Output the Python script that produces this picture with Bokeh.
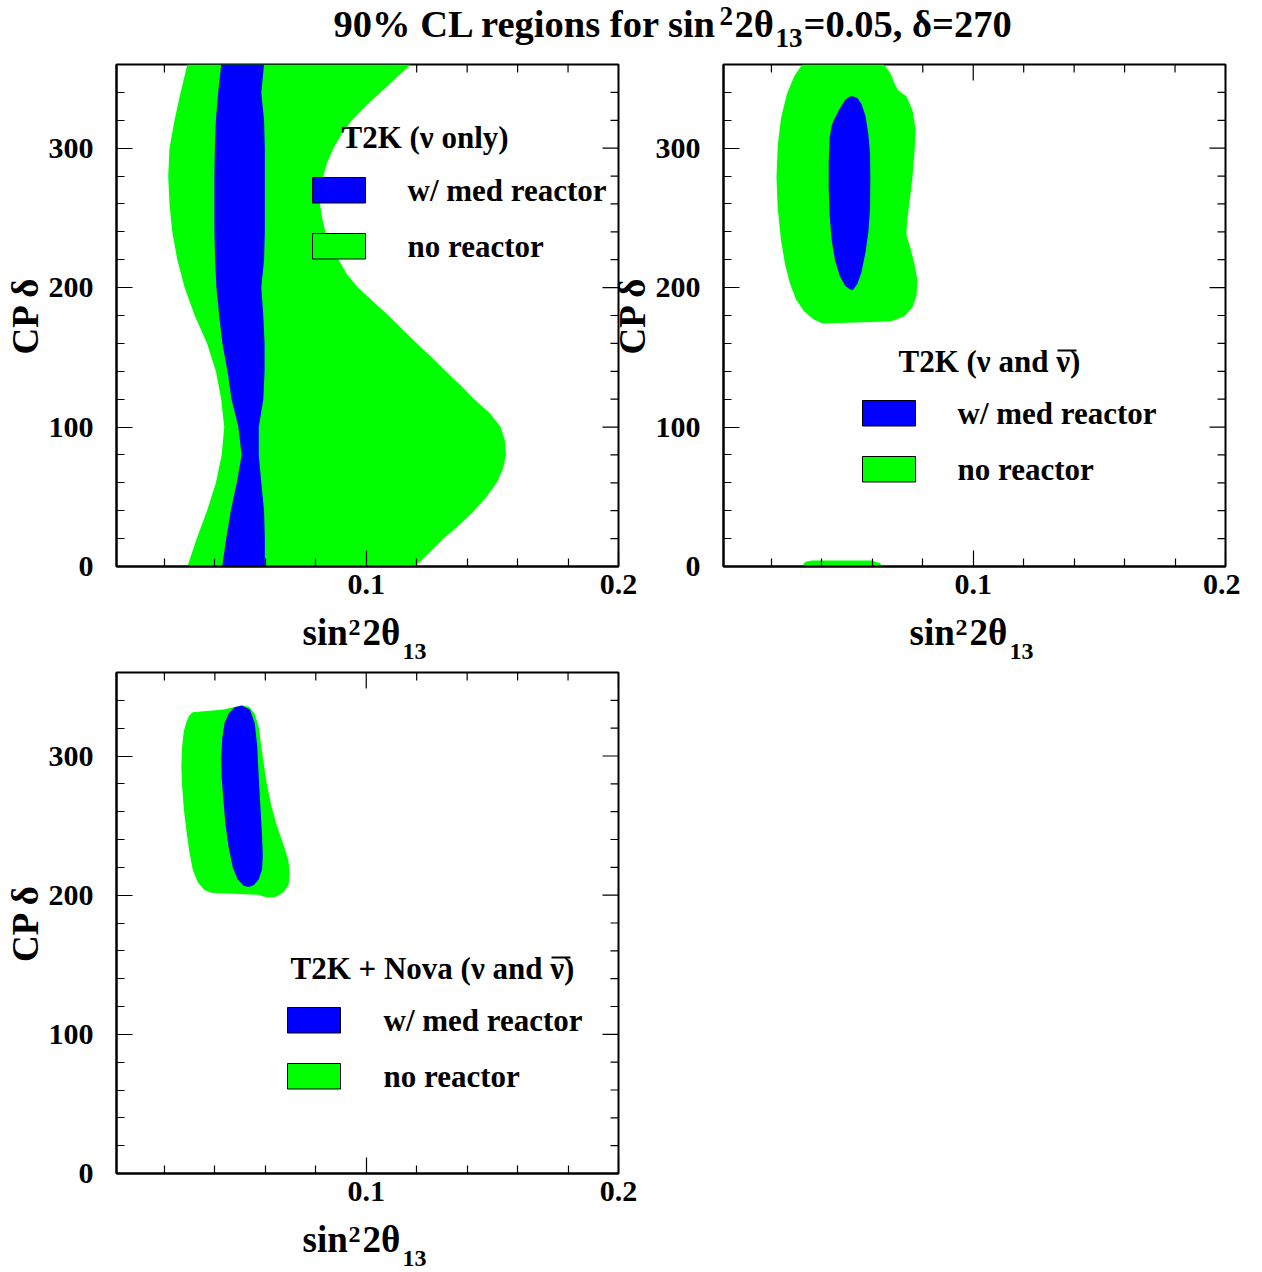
from bokeh.plotting import figure
from bokeh.models import Range1d, FixedTicker
from bokeh.layouts import column, row
from bokeh.embed import file_html
from bokeh.resources import INLINE
from bokeh.core.properties import value

# ------------------------------------------------------------------ data
X_RANGE = (0.001, 0.2)
Y_RANGE = (0, 360)
X_MAJOR = [0.1, 0.2]
X_MINOR = [0.02, 0.04, 0.06, 0.08, 0.12, 0.14, 0.16, 0.18]
Y_MAJOR = [0, 100, 200, 300]
Y_MINOR = [20, 40, 60, 80, 120, 140, 160, 180, 220, 240, 260, 280, 320, 340]

# Panel 1: T2K (nu only) -- band boundaries vs CP delta
p1_delta = [0, 20, 40, 60, 80, 100, 120, 140, 160, 180, 200, 220, 240, 260, 280, 300, 320, 340, 360]
p1_noreac_left = [0.0291, 0.0328, 0.0369, 0.0404, 0.0427, 0.0437, 0.0425, 0.0404, 0.0369, 0.0320,
                  0.0280, 0.0251, 0.0231, 0.0220, 0.0215, 0.0220, 0.0240, 0.0264, 0.0291]
p1_right_delta = list(range(0, 361, 10))
p1_noreac_right = [0.1193, 0.1251, 0.1307, 0.1370, 0.1428, 0.1477, 0.1517, 0.1542, 0.1554, 0.1550,
                   0.1533, 0.1489, 0.1428, 0.1374, 0.1315, 0.1259, 0.1201, 0.1144, 0.1088, 0.1027,
                   0.0967, 0.0922, 0.0891, 0.0862, 0.0838, 0.0825, 0.0817, 0.0819, 0.0830, 0.0846,
                   0.0870, 0.0902, 0.0943, 0.0997, 0.1056, 0.1116, 0.1177]
p1_med_left = [0.0429, 0.0445, 0.0463, 0.0487, 0.0506, 0.0493, 0.0466, 0.0450, 0.0430, 0.0417,
               0.0406, 0.0401, 0.0398, 0.0398, 0.0398, 0.0400, 0.0404, 0.0413, 0.0425]
p1_med_right = [0.0598, 0.0598, 0.0595, 0.0584, 0.0574, 0.0574, 0.0592, 0.0597, 0.0597, 0.0592,
                0.0584, 0.0595, 0.0598, 0.0598, 0.0598, 0.0598, 0.0595, 0.0584, 0.0595]

# Panel 2: T2K (nu and nubar) -- closed contours
p2_noreac_x = [0.0322, 0.0646, 0.0670, 0.0686, 0.0702, 0.0735, 0.0759, 0.0772, 0.0767, 0.0759,
               0.0748, 0.0738, 0.0735, 0.0751, 0.0767, 0.0779, 0.0775, 0.0759, 0.0727, 0.0678,
               0.0662, 0.0403, 0.0368, 0.0330, 0.0298, 0.0274, 0.0254, 0.0238, 0.0225, 0.0220,
               0.0225, 0.0238, 0.0261, 0.0290]
p2_noreac_y = [360.0, 360.0, 354.3, 347.2, 341.6, 337.3, 327.4, 313.2, 296.2, 279.2,
               262.2, 248.0, 238.1, 228.2, 216.8, 205.5, 194.2, 185.7, 179.4, 176.0,
               175.7, 174.3, 177.2, 182.8, 191.3, 202.7, 216.8, 233.9, 256.5, 279.2,
               301.9, 321.7, 338.7, 351.5]
p2_noreac_wrap_x = [0.0319, 0.0335, 0.0363, 0.0597, 0.0630, 0.0643]
p2_noreac_wrap_y = [0.0, 3.4, 4.3, 4.3, 2.3, 0.0]
p2_med_x = [0.0521, 0.0541, 0.0557, 0.0573, 0.0584, 0.0591, 0.0592, 0.0591, 0.0584, 0.0573,
            0.0557, 0.0541, 0.0524, 0.0513, 0.0492, 0.0471, 0.0452, 0.0439, 0.0431, 0.0427,
            0.0427, 0.0431, 0.0439, 0.0448, 0.0468, 0.0492, 0.0508]
p2_med_y = [337.3, 335.9, 331.6, 323.1, 310.4, 296.2, 279.2, 256.5, 239.5, 225.4,
            211.2, 202.7, 198.4, 198.4, 201.3, 208.3, 219.7, 233.9, 250.9, 270.7,
            290.5, 307.6, 316.1, 320.3, 327.4, 334.5, 336.8]

# Panel 3: T2K + Nova (nu and nubar) -- closed contours
p3_noreac_x = [0.0312, 0.0434, 0.0482, 0.0511, 0.0535, 0.0558, 0.0574, 0.0584, 0.0595, 0.0607,
               0.0623, 0.0644, 0.0671, 0.0691, 0.0697, 0.0692, 0.0671, 0.0639, 0.0607, 0.0571,
               0.0385, 0.0358, 0.0332, 0.0312, 0.0299, 0.0288, 0.0277, 0.0270, 0.0267, 0.0270,
               0.0277, 0.0288, 0.0299]
p3_noreac_y = [331.4, 333.4, 335.4, 336.2, 335.4, 330.6, 320.8, 306.8, 292.8, 278.8,
               264.8, 250.7, 236.7, 225.5, 215.7, 207.3, 201.7, 198.6, 198.4, 200.3,
               201.7, 203.7, 209.3, 218.5, 231.1, 245.1, 261.9, 278.8, 292.8, 306.8,
               318.0, 325.0, 329.2]
p3_med_x = [0.0506, 0.0539, 0.0558, 0.0568, 0.0574, 0.0581, 0.0587, 0.0590, 0.0587, 0.0574,
            0.0555, 0.0534, 0.0514, 0.0490, 0.0471, 0.0455, 0.0442, 0.0434, 0.0427, 0.0425,
            0.0429, 0.0438, 0.0455, 0.0477]
p3_med_y = [336.2, 333.4, 323.6, 306.8, 284.4, 261.9, 242.3, 228.3, 218.5, 211.5,
            207.3, 205.9, 206.8, 211.5, 219.9, 233.9, 250.7, 267.6, 284.4, 298.4,
            312.4, 323.6, 330.6, 334.8]

LEGEND_ITEMS = ["w/ med reactor", "no reactor"]
BLUE = "#0000ff"
GREEN = "#00ff00"

# ------------------------------------------------------------------ style
FONT = "Liberation Serif"
FW = 502
MID = 0.34  # distance baseline -> middle of text box, in em


def x_of(px, fl):
    return X_RANGE[0] + (px - fl) / FW * (X_RANGE[1] - X_RANGE[0])


def y_of(py, fb, fh):
    return (fb - py) / fh * (Y_RANGE[1] - Y_RANGE[0])


def style_axis(ax, major, minor):
    ax.ticker = FixedTicker(ticks=major, minor_ticks=minor)
    ax.major_tick_in = 16
    ax.major_tick_out = 0
    ax.minor_tick_in = 8
    ax.minor_tick_out = 0
    ax.axis_line_color = "black"
    ax.axis_line_width = 2
    ax.major_tick_line_color = "black"
    ax.minor_tick_line_color = "black"
    ax.major_tick_line_width = 1.2
    ax.minor_tick_line_width = 1.2
    ax.major_label_text_font = FONT
    ax.major_label_text_font_style = "bold"
    ax.major_label_text_font_size = "30px"
    ax.major_label_text_color = "black"
    ax.axis_label_text_font = FONT
    ax.axis_label_text_font_style = "bold"
    ax.axis_label_text_font_size = "37px"
    ax.axis_label_text_color = "black"


def make_panel(width, top_border, frame_h, right_border, bottom_border):
    p = figure(width=width, height=top_border + frame_h + bottom_border,
               x_range=Range1d(*X_RANGE), y_range=Range1d(*Y_RANGE),
               output_backend="svg", toolbar_location=None, tools="",
               min_border_left=116, min_border_right=right_border,
               min_border_top=top_border, min_border_bottom=bottom_border)
    p.xgrid.visible = False
    p.ygrid.visible = False
    p.outline_line_color = "black"
    p.outline_line_width = 2
    p.background_fill_color = "white"
    p.border_fill_color = None
    xa, ya = p.xaxis[0], p.yaxis[0]
    style_axis(xa, X_MAJOR, X_MINOR)
    style_axis(ya, Y_MAJOR, Y_MINOR)
    xa.major_label_standoff = 8
    ya.major_label_standoff = 23
    ya.axis_label = "CP δ"
    ya.axis_label_standoff = 0
    # mirrored ticks on the top and right edges (inward)
    dx16 = 16 / FW * (X_RANGE[1] - X_RANGE[0])
    dx8 = 8 / FW * (X_RANGE[1] - X_RANGE[0])
    dy16 = 16 / frame_h * (Y_RANGE[1] - Y_RANGE[0])
    dy8 = 8 / frame_h * (Y_RANGE[1] - Y_RANGE[0])
    ys = Y_MAJOR + Y_MINOR
    ylen = [dx16] * len(Y_MAJOR) + [dx8] * len(Y_MINOR)
    p.segment(x0=[X_RANGE[1] - l for l in ylen], x1=[X_RANGE[1]] * len(ys), y0=ys, y1=ys,
              line_color="black", line_width=1.2)
    xs = X_MAJOR + X_MINOR
    xlen = [dy16] * len(X_MAJOR) + [dy8] * len(X_MINOR)
    p.segment(x0=xs, x1=xs, y0=[Y_RANGE[1] - l for l in xlen], y1=[Y_RANGE[1]] * len(xs),
              line_color="black", line_width=1.2)
    return p


def add_text(p, x, y, txt, size):
    p.text(x=[x], y=[y], text=[txt], text_font=value(FONT), text_font_style="bold",
           text_font_size=value(f"{size}px"), text_baseline="middle", text_align="left",
           text_color="black")


def add_legend(p, fl, fb, fh, header, hx, hbase, bx, btop, ttx, overline_dx=None):
    add_text(p, x_of(hx, fl), y_of(hbase - MID * 31, fb, fh), header, 31)
    if overline_dx is not None:
        p.segment(x0=[x_of(hx + overline_dx, fl)], x1=[x_of(hx + overline_dx + 19, fl)],
                  y0=[y_of(hbase - 22, fb, fh)], y1=[y_of(hbase - 22, fb, fh)],
                  line_color="black", line_width=2)
    for i, (lab, col) in enumerate(zip(LEGEND_ITEMS, [BLUE, GREEN])):
        t = btop + i * 56
        p.quad(left=[x_of(bx, fl)], right=[x_of(bx + 53, fl)],
               top=[y_of(t, fb, fh)], bottom=[y_of(t + 25.5, fb, fh)],
               fill_color=col, line_color="black", line_width=1)
        add_text(p, x_of(ttx, fl), y_of(t + 13, fb, fh), lab, 31)


def text_strip(height, margin_top=0):
    # full-width transparent strip; its frame is aligned by the column with panel 3's
    # frame (left border 116, right border 22), so x is in page pixels and y from its top
    s = figure(width=1240, height=height, x_range=Range1d(116, 1218), y_range=Range1d(height, 0),
               output_backend="svg", toolbar_location=None, tools="",
               x_axis_location=None, y_axis_location=None,
               min_border_left=116, min_border_right=22, min_border_top=0, min_border_bottom=0)
    s.xgrid.visible = False
    s.ygrid.visible = False
    s.outline_line_color = None
    s.border_fill_color = None
    s.background_fill_color = None
    if margin_top:
        s.margin = (margin_top, 0, 0, 0)
    return s


def add_xlabel(s, x0, base):
    # sin^2 2theta_13 with ROOT-like super/subscripts
    for txt, dx, db, fs in [("sin", 0, 0, 37), ("2", 46, -10, 24),
                            ("2θ", 60, 0, 37), ("13", 100, 14, 24)]:
        add_text(s, x0 + dx, base + db - MID * fs, txt, fs)


# ------------------------------------------------------------------ panel 1
p1 = make_panel(640, 10, 502, 22, 104)
p1.patch(p1_noreac_left + p1_noreac_right[::-1], p1_delta + p1_right_delta[::-1],
         fill_color=GREEN, line_color=None)
p1.patch(p1_med_left + p1_med_right[::-1], p1_delta + p1_delta[::-1],
         fill_color=BLUE, line_color=None)
add_legend(p1, 116, 566, 502, "T2K (ν only)", 341, 148, 312, 177, 407)

# ------------------------------------------------------------------ panel 2
p2 = make_panel(633, 10, 502, 15, 104)
p2.margin = (0, 0, 0, -33)
p2.patch(p2_noreac_x, p2_noreac_y, fill_color=GREEN, line_color=None)
p2.patch(p2_noreac_wrap_x, p2_noreac_wrap_y, fill_color=GREEN, line_color=None)
p2.patch(p2_med_x, p2_med_y, fill_color=BLUE, line_color=None)
add_legend(p2, 723, 566, 502, "T2K (ν and ν)", 898, 372, 862, 400, 957, overline_dx=159)

# ------------------------------------------------------------------ panel 3
p3 = make_panel(640, 2, 501, 22, 99)
p3.patch(p3_noreac_x, p3_noreac_y, fill_color=GREEN, line_color=None)
p3.patch(p3_med_x, p3_med_y, fill_color=BLUE, line_color=None)
add_legend(p3, 116, 1173, 501, "T2K + Nova (ν and ν)", 290, 979, 287, 1007, 383, overline_dx=261)

# ------------------------------------------------------------------ title
TH = 54
pt = text_strip(TH)
title_pieces = [("90% CL regions for sin", 333, 37, 38.5),
                ("2", 719, 25, 27),
                ("2θ", 734, 37, 38.5),
                ("13", 775, 47, 27),
                ("=0.05, δ=270", 803, 37, 38.5)]
for txt, tx, tbase, fs in title_pieces:
    add_text(pt, tx, tbase - MID * fs, txt, fs)

# ------------------------------------------------------------------ x axis titles
LH = 64
lab_top = text_strip(LH, margin_top=-LH)      # covers page y 606..670
add_xlabel(lab_top, 302, 645 - 606)
add_xlabel(lab_top, 909, 645 - 606)
lab_bot = text_strip(LH, margin_top=-LH)      # covers page y 1208..1272
add_xlabel(lab_bot, 302, 1252 - 1208)

root = column(pt, row(p1, p2), lab_top, p3, lab_bot)

open("out.html", "w").write(file_html(root, INLINE))
